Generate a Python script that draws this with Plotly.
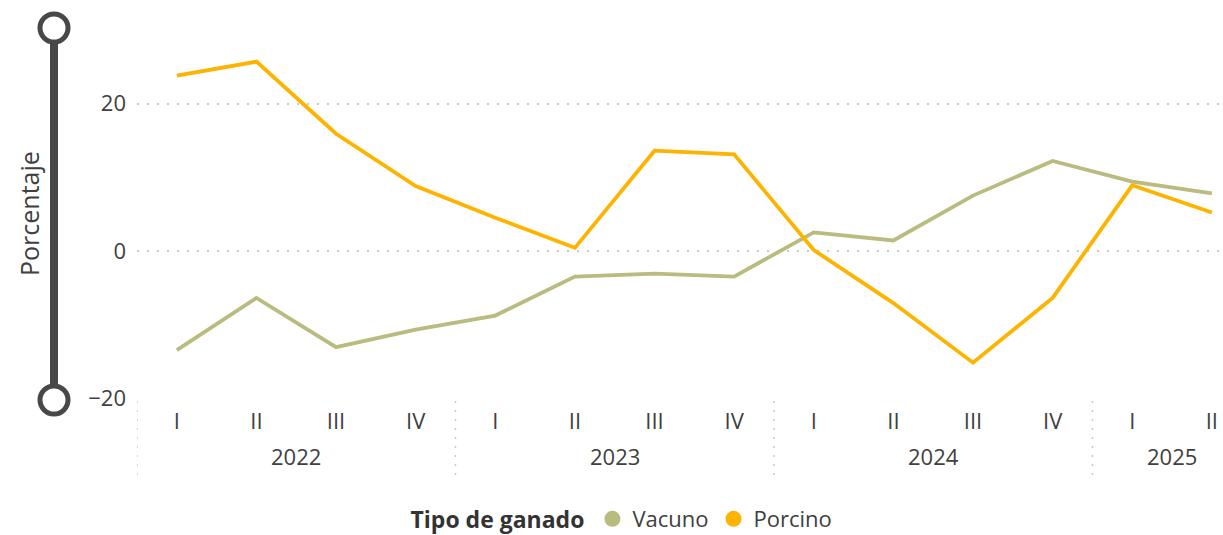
import plotly.graph_objects as go

years = ["2022", "2023", "2024", "2025"]
quarters = ["I", "II", "III", "IV", "I", "II", "III", "IV", "I", "II", "III", "IV", "I", "II"]
year_of_point = ["2022"] * 4 + ["2023"] * 4 + ["2024"] * 4 + ["2025"] * 2
vacuno = [-13.5, -6.4, -13.1, -10.7, -8.8, -3.5, -3.1, -3.5, 2.5, 1.4, 7.5, 12.2, 9.4, 7.8]
porcino = [23.8, 25.7, 15.9, 8.8, 4.5, 0.4, 13.6, 13.1, 0.1, -7.1, -15.2, -6.4, 8.9, 5.2]
series_names = ["Vacuno", "Porcino"]
series_colors = ["#B9BB7F", "#FDB300"]
y_ticks = [-20, 0, 20]
y_title = "Porcentaje"
legend_title = "Tipo de ganado"

W, H = 1223, 535
PL, PR, PT, PB = 137, 1223, 30, 398  # plot area in pixels
ML, MR, MT, MB = PL, W - PR, PT, H - PB
PW, PH = W - ML - MR, H - MT - MB


def px_x(px):
    return (px - PL) / PW


def px_y(py):
    return (PB - py) / PH


FONT = "Open Sans"
TXT = "#404040"
FS = 22
idx = list(range(len(quarters)))

fig = go.Figure()
for name, vals, col in zip(series_names, [vacuno, porcino], series_colors):
    fig.add_trace(go.Scatter(x=idx, y=vals, mode="lines", name=name,
                             line=dict(color=col, width=3.8), showlegend=False,
                             hovertemplate="%{y}<extra>" + name + "</extra>"))
    fig.add_trace(go.Scatter(x=[None], y=[None], mode="markers", name=name,
                             marker=dict(color=col, size=21, symbol="circle"),
                             showlegend=True))

# year labels and dividers
for y in years:
    pts = [i for i, yy in enumerate(year_of_point) if yy == y]
    first, last = pts[0], pts[-1]
    fig.add_annotation(x=(first + last) / 2, y=px_y(456), xref="x", yref="paper",
                       text=y, showarrow=False, font=dict(family=FONT, size=FS, color=TXT),
                       xanchor="center", yanchor="middle")
    fig.add_shape(type="line", xref="x", yref="paper", x0=first - 0.5, x1=first - 0.5,
                  y0=px_y(401), y1=px_y(478),
                  line=dict(color="#C8C8C8", width=1.5, dash="2px,7px"))

# left slider decoration
sx = px_x(54)
fig.add_shape(type="line", xref="paper", yref="paper", x0=sx, x1=sx, y0=px_y(28), y1=px_y(400),
              line=dict(color="#4A4846", width=8), layer="above")
for cy in (28, 400):
    fig.add_shape(type="circle", xref="paper", yref="paper", xsizemode="pixel", ysizemode="pixel",
                  xanchor=sx, yanchor=px_y(cy), x0=-14, x1=14, y0=-14, y1=14,
                  fillcolor="white", line=dict(color="#4A4846", width=5), layer="above")

fig.add_annotation(x=px_x(29), y=px_y(214), xref="paper", yref="paper", text=y_title, textangle=-90,
                   showarrow=False, font=dict(family=FONT, size=25, color=TXT),
                   xanchor="center", yanchor="middle")

fig.update_layout(
    width=W, height=H,
    margin=dict(l=ML, r=MR, t=MT, b=MB, autoexpand=False),
    paper_bgcolor="white", plot_bgcolor="white",
    font=dict(family=FONT, size=FS, color=TXT),
    showlegend=True,
    legend=dict(orientation="h", x=px_x(623), xanchor="center", y=px_y(519), yanchor="middle",
                title=dict(text="<b>" + legend_title + "</b>", font=dict(family=FONT, size=23, color="#333333")),
                font=dict(family=FONT, size=FS, color=TXT), itemwidth=30, tracegroupgap=0),
    xaxis=dict(range=[-0.5, 13.14], tickmode="array", tickvals=idx, ticktext=quarters,
               showgrid=False, zeroline=False, showline=False, ticks="",
               ticklabelstandoff=8, ticklabeloverflow="allow",
               tickfont=dict(family=FONT, size=FS, color=TXT), fixedrange=True),
    yaxis=dict(range=[-20, 30], tickmode="array", tickvals=y_ticks,
               showgrid=True, gridcolor="#C8C8C8", gridwidth=1.5, griddash="2px,8px",
               zeroline=False, showline=False, ticks="", ticklabelstandoff=10,
               tickfont=dict(family=FONT, size=FS, color=TXT), fixedrange=True),
)

fig.write_html("out.html", config={"displayModeBar": False},
               post_script="document.body.style.margin='0';document.body.style.overflow='hidden';")
